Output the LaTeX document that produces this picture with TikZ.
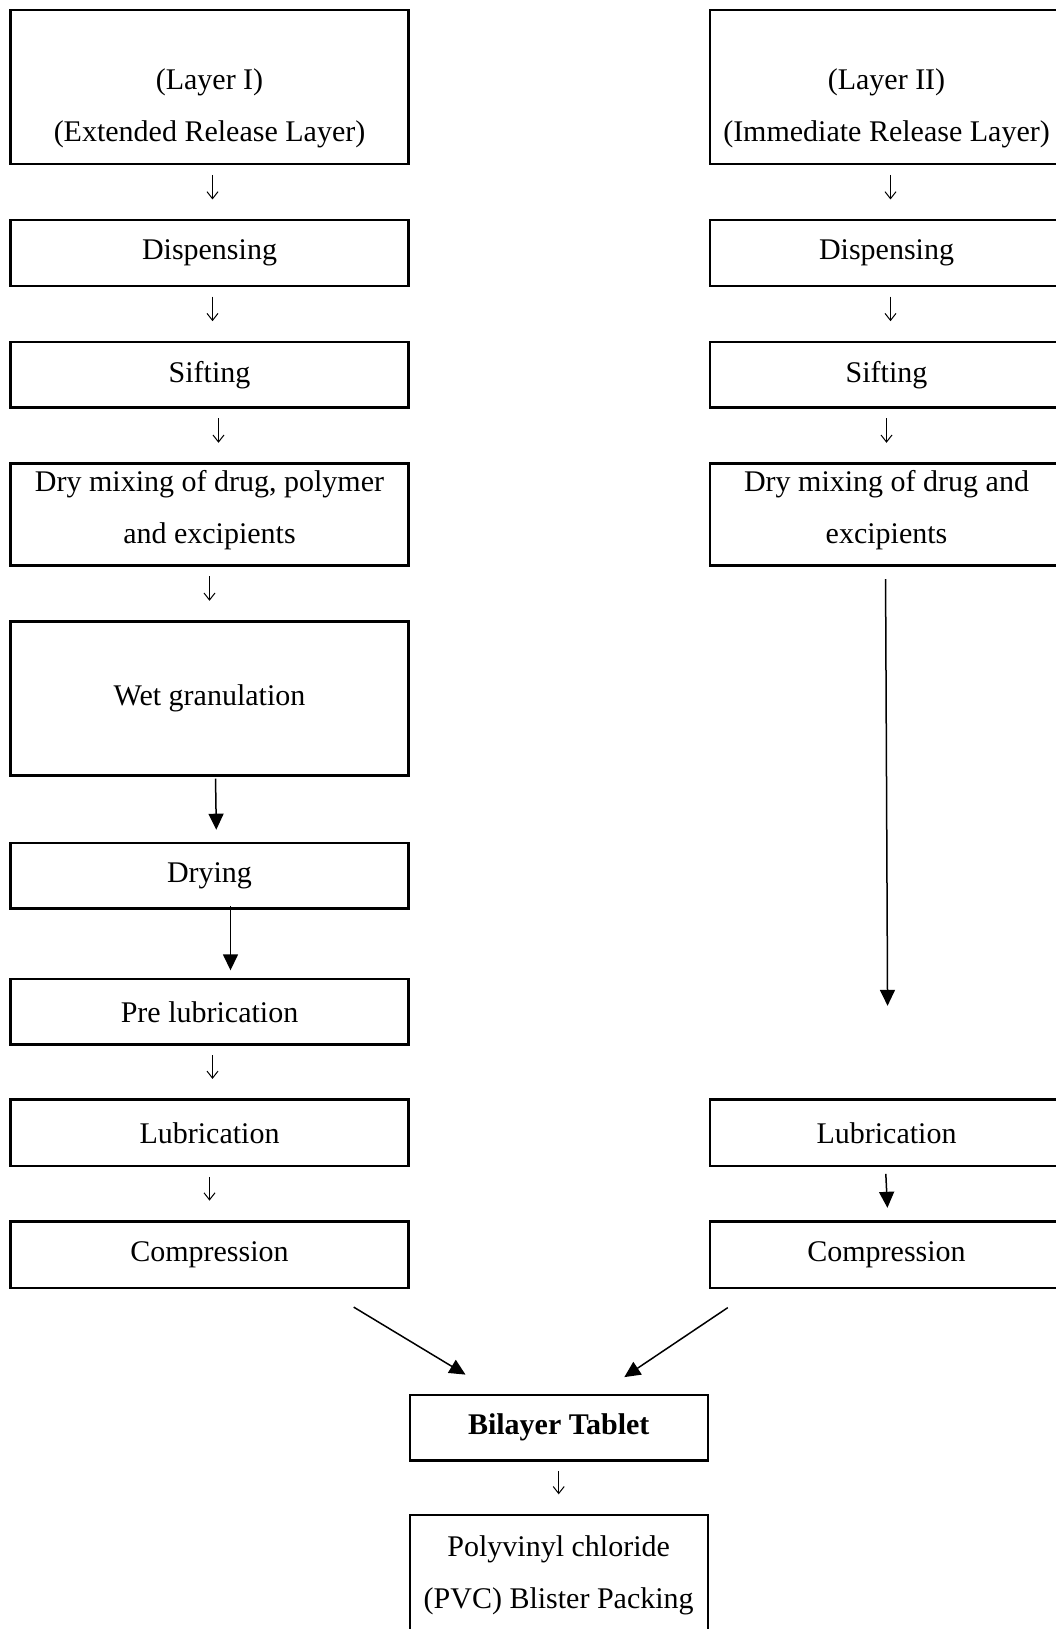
\documentclass[tikz,border=0pt]{standalone}
\usepackage{fontspec}
\setmainfont{Liberation Serif}
\usetikzlibrary{arrows.meta}

\begin{document}
\begin{tikzpicture}[x=1pt, y=-1pt, font=\fontsize{30}{52}\selectfont,
  stage/.style={draw, line width=2.4pt, inner sep=0pt, align=center},
  lcol/.style={stage, minimum width=398pt},
  rcol/.style={stage, minimum width=353pt},
  mcol/.style={stage, minimum width=298pt},
  short/.style={minimum height=65.6pt},
  glyph/.style={-{Straight Barb[length=7pt,width=11pt]}, line width=1pt,
    shorten <=9.5pt, shorten >=19.5pt},
  heavy/.style={-{Triangle[length=16pt,width=15pt]}, line width=1.5pt}]

\useasboundingbox (0,0) rectangle (1055,1629);

% Layer I
\node [lcol, minimum height=154pt] (layerone) at (209.5,87.3) {\rule{0pt}{11pt}\\(Layer I)\\(Extended Release Layer)};
\node [lcol, short] (dispone) at (209.5,253) {Dispensing};
\node [lcol, short] (siftone) at (209.5,374.7) {Sifting};
\node [lcol, minimum height=102pt] (mixone) at (209.5,514.5) {Dry mixing of drug, polymer\\and excipients\rule[-15pt]{0pt}{15pt}};
\node [lcol, minimum height=154pt] (wet) at (209.5,698.5) {Wet granulation};
\node [lcol, short] (drying) at (209.5,875.7) {Drying};
\node [lcol, short] (prelub) at (209.5,1011.8) {Pre lubrication};
\node [lcol, minimum height=66.6pt] (lubone) at (209.5,1132.9) {Lubrication};
\node [lcol, minimum height=66.6pt] (compone) at (209.5,1254.6) {Compression};

% Layer II
\node [rcol, minimum height=154pt] (layertwo) at (886.5,87.3) {\rule{0pt}{11pt}\\(Layer II)\\(Immediate Release Layer)};
\node [rcol, short] (disptwo) at (886.5,253) {Dispensing};
\node [rcol, short] (sifttwo) at (886.5,374.7) {Sifting};
\node [rcol, minimum height=102pt] (mixtwo) at (886.5,514.5) {Dry mixing of drug and\\excipients\rule[-15pt]{0pt}{15pt}};
\node [rcol, minimum height=66.6pt] (lubtwo) at (886.5,1132.9) {Lubrication};
\node [rcol, minimum height=66.6pt] (comptwo) at (886.5,1254.6) {Compression};

% tablet
\node [mcol, short] (bilayer) at (558.7,1427.6) {\bfseries Bilayer Tablet};
\node [mcol, minimum height=120pt] (pvc) at (558.7,1575) {Polyvinyl chloride\\(PVC) Blister Packing};

\draw [glyph] ([xshift=3pt]layerone.south) -- ([xshift=3pt]dispone.north);
\draw [glyph] ([xshift=3pt]dispone.south) -- ([xshift=3pt]siftone.north);
\draw [glyph] ([xshift=9pt]siftone.south) -- ([xshift=9pt]mixone.north);
\draw [glyph] (mixone.south) -- (wet.north);
\draw [heavy, shorten <=2pt, shorten >=12pt] ([xshift=6pt]wet.south) -- ([xshift=7pt]drying.north);
\draw [heavy, shorten >=7.5pt] ([xshift=21pt,yshift=3.5pt]drying.south) -- ([xshift=21pt]prelub.north);
\draw [glyph] ([xshift=3pt]prelub.south) -- ([xshift=3pt]lubone.north);
\draw [glyph] (lubone.south) -- (compone.north);

\draw [glyph] ([xshift=4pt]layertwo.south) -- ([xshift=4pt]disptwo.north);
\draw [glyph] ([xshift=4pt]disptwo.south) -- ([xshift=4pt]sifttwo.north);
\draw [glyph] (sifttwo.south) -- (mixtwo.north);
\draw [heavy, shorten <=12.5pt, shorten >=92.6pt] ([xshift=-1pt]mixtwo.south) -- ([xshift=1.5pt]lubtwo.north);
\draw [heavy, shorten <=6.5pt, shorten >=12.3pt] ([xshift=-1pt]lubtwo.south) -- ([xshift=1.5pt]comptwo.north);

\draw [heavy] ([xshift=-56pt,yshift=-18pt]compone.south east) -- ([xshift=57pt,yshift=19pt]bilayer.north west);
\draw [heavy] ([xshift=19pt,yshift=-18.5pt]comptwo.south west) -- ([xshift=-84.6pt,yshift=16.5pt]bilayer.north east);
\draw [glyph] (bilayer.south) -- (pvc.north);

\end{tikzpicture}
\end{document}
